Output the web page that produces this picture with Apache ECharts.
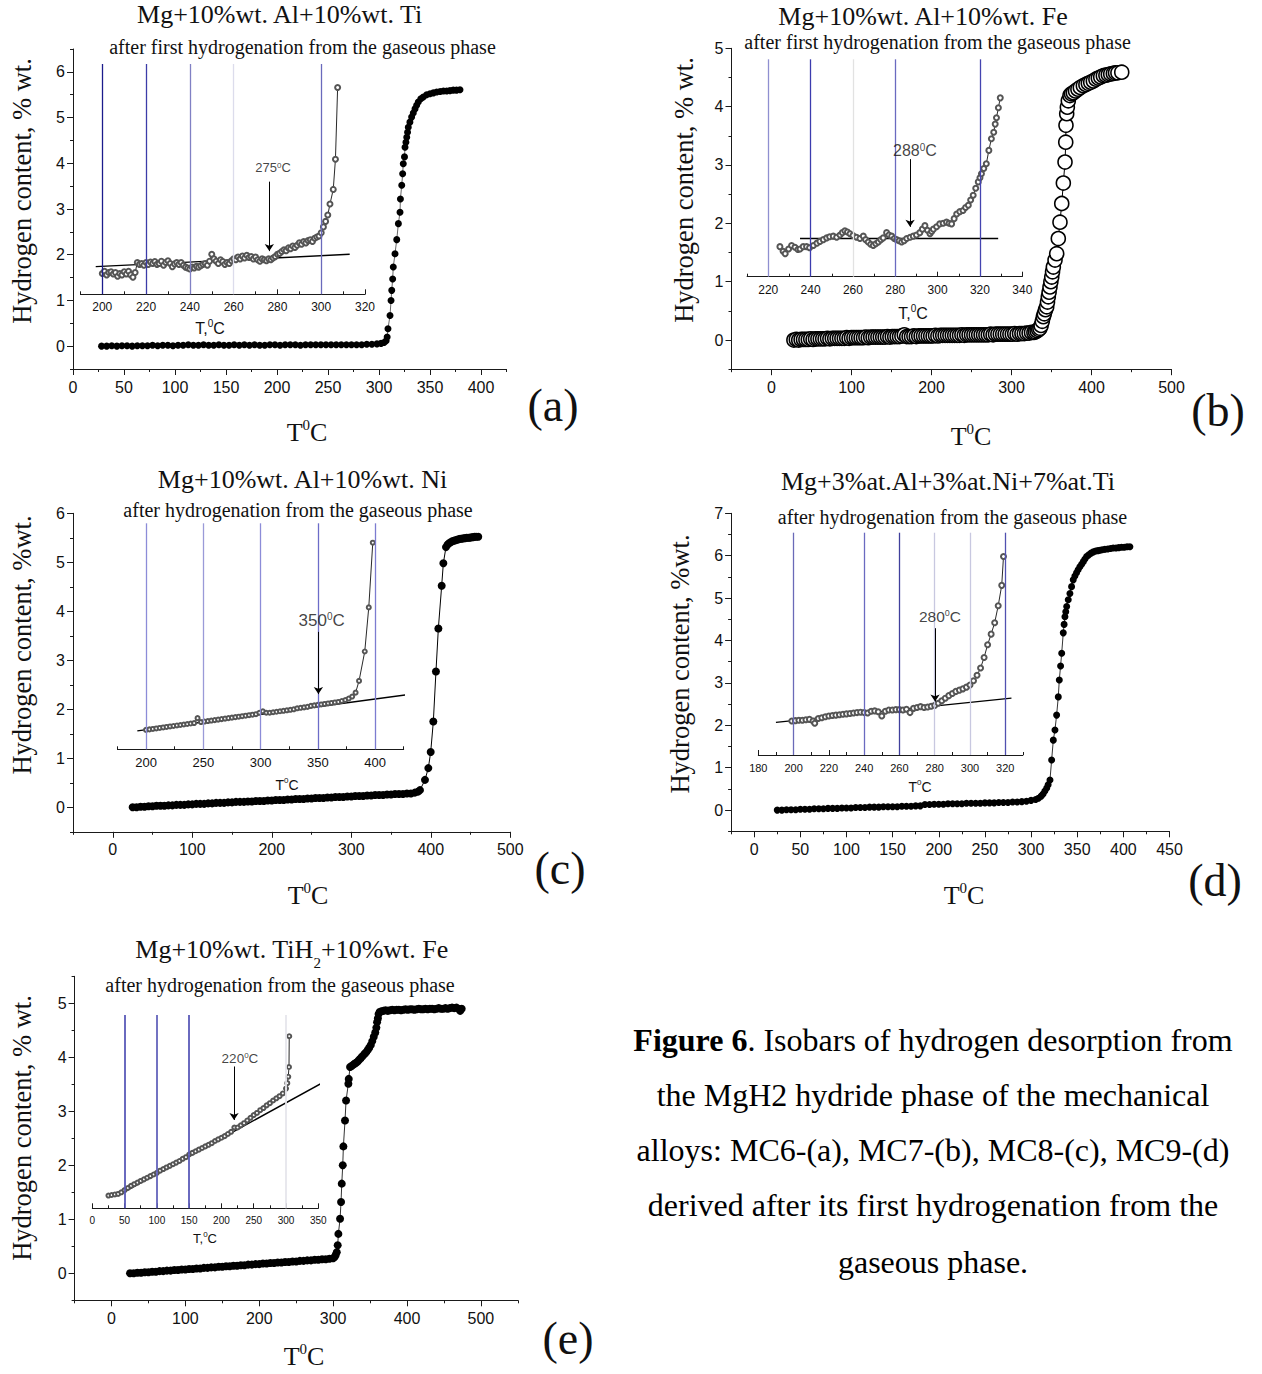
<!DOCTYPE html>
<html><head><meta charset="utf-8">
<script src="https://cdn.jsdelivr.net/npm/echarts@6/dist/echarts.min.js"></script>
<style>html,body{margin:0;padding:0;background:#fff}#c{width:1262px;height:1374px}</style>
</head><body><div id="c"></div>
<script>
// ================= DATA =================
// (a) Mg+10%wt. Al+10%wt. Ti
const aMain=[[28,0],[33,0],[38,0.01],[43,0],[48,0.01],[53,0.01],[58,0],[63,0.01],[68,0.01],[73,0.01],[78,0.02],[83,0.01],[88,0.02],[93,0.02],[98,0.01],[103,0.02],[108,0.02],[113,0.03],[118,0.02],[123,0.02],[128,0.03],[133,0.02],[138,0.02],[143,0.03],[148,0.02],[153,0.02],[158,0.03],[163,0.02],[168,0.03],[173,0.02],[178,0.03],[183,0.02],[188,0.02],[193,0.03],[198,0.03],[203,0.02],[208,0.03],[213,0.03],[218,0.03],[223,0.02],[228,0.03],[233,0.03],[238,0.03],[243,0.03],[248,0.03],[253,0.03],[258,0.03],[263,0.03],[268,0.03],[273,0.03],[278,0.03],[283,0.03],[288,0.04],[293,0.04],[298,0.05],[302,0.06],[305,0.08],[307,0.12],[308,0.2],[308.8,0.38],[310.8,0.67],[311.8,1.0],[312.5,1.22],[313.4,1.47],[314,1.73],[315.7,2.02],[317.4,2.33],[319,2.68],[320.6,2.93],[321,3.22],[322.3,3.52],[323.2,3.77],[323.8,3.99],[325,4.14],[325.5,4.35],[326.4,4.46],[327.2,4.57],[328,4.68],[328.7,4.79],[330.3,4.9],[332,5.01],[333.6,5.1],[335.3,5.19],[336.9,5.27],[338.5,5.34],[341,5.41],[343.4,5.45],[346.7,5.5],[350,5.52],[353.3,5.54],[356.6,5.56],[360,5.57],[363.2,5.58],[366.4,5.58],[369.6,5.59],[372.8,5.6],[376,5.6],[379.4,5.61]];
const aInset=[[200,1.58],[201,1.63],[202,1.55],[203,1.6],[204,1.62],[205,1.57],[206,1.6],[207,1.52],[208,1.58],[209,1.55],[210,1.62],[211,1.57],[212,1.63],[213,1.55],[214,1.5],[215,1.6],[216,1.82],[217,1.78],[218,1.8],[219,1.76],[220,1.82],[221,1.78],[222,1.83],[223,1.8],[224,1.84],[225,1.78],[226,1.8],[227,1.85],[228,1.76],[229,1.82],[230,1.86],[231,1.8],[232,1.73],[233,1.79],[234,1.82],[235,1.78],[236,1.82],[237,1.76],[238,1.72],[239,1.7],[240,1.68],[241,1.72],[242,1.7],[243,1.74],[244,1.72],[245,1.75],[246,1.78],[247,1.8],[248,1.76],[249,1.85],[250,2.0],[251,1.9],[252,1.85],[253,1.8],[254,1.88],[255,1.84],[256,1.78],[257,1.82],[258,1.8],[259,1.86],[260,1.9],[261,1.88],[262,1.94],[263,1.9],[264,1.96],[265,1.92],[266,1.98],[267,1.93],[268,1.95],[269,1.9],[270,1.94],[271,1.88],[272,1.85],[273,1.9],[274,1.88],[275,1.86],[276,1.9],[277,1.88],[278,1.92],[279,1.95],[280,2.0],[281,2.02],[282,2.06],[283,2.1],[284,2.08],[285,2.14],[286,2.12],[287,2.18],[288,2.15],[289,2.2],[290,2.25],[291,2.22],[292,2.28],[293,2.25],[294,2.3],[295,2.32],[296,2.28],[297,2.35],[298,2.38],[299,2.4],[300,2.47],[301,2.6],[302,2.72],[303,2.86],[304,3.1],[305.5,3.42],[306.5,4.08],[307.5,5.65]];
const aFit=[[197,1.73],[313,2.0]];
const aGuideT=[200,220,240,260,300];
const aArrow=[276.3,3.59,2.07];
const aNote=[278,3.89];
const aNoteText='275';
const aXTicks=[0,50,100,150,200,250,300,350,400];
const aXMinor=[25,75,125,175,225,275,325,375,425];
const aYTicks=[0,1,2,3,4,5,6];
const aYMinor=[-0.5,0.5,1.5,2.5,3.5,4.5,5.5,6.5];
const aInTicks=[200,220,240,260,280,300,320];
const aInMinor=[190,210,230,250,270,290,310];

// (b) Mg+10%wt. Al+10%wt. Fe
const bMain=[[28,0],[31,0.01],[34,0],[37,0.01],[40,0.01],[43,0.01],[46,0.01],[49,0.02],[52,0.01],[55,0.02],[58,0.02],[61,0.02],[64,0.02],[67,0.02],[70,0.03],[73,0.02],[76,0.03],[79,0.03],[82,0.03],[85,0.03],[88,0.03],[91,0.03],[94,0.04],[97,0.03],[100,0.04],[103,0.04],[106,0.04],[109,0.04],[112,0.04],[115,0.04],[118,0.05],[121,0.04],[124,0.05],[127,0.05],[130,0.05],[133,0.05],[136,0.05],[139,0.05],[142,0.05],[145,0.06],[148,0.05],[151,0.06],[154,0.06],[157,0.06],[160,0.06],[163,0.07],[166,0.09],[169,0.06],[172,0.06],[175,0.06],[178,0.07],[181,0.06],[184,0.07],[187,0.07],[190,0.07],[193,0.07],[196,0.07],[199,0.07],[202,0.07],[205,0.08],[208,0.07],[211,0.08],[214,0.08],[217,0.08],[220,0.08],[223,0.08],[226,0.08],[229,0.08],[232,0.08],[235,0.08],[238,0.09],[241,0.08],[244,0.09],[247,0.09],[250,0.09],[253,0.09],[256,0.09],[259,0.09],[262,0.09],[265,0.09],[268,0.09],[271,0.09],[274,0.1],[277,0.09],[280,0.1],[283,0.1],[286,0.1],[289,0.1],[292,0.1],[295,0.1],[298,0.1],[301,0.1],[304,0.11],[307,0.1],[310,0.11],[313,0.11],[316,0.11],[319,0.12],[322,0.12],[325,0.13],[328,0.13],[330,0.14],[332,0.16],[334,0.18],[335.6,0.2],[337,0.25],[338.5,0.32],[339.8,0.4],[341,0.45],[342.5,0.52],[344,0.57],[345,0.65],[346,0.74],[347,0.82],[348.1,0.91],[349.2,1.0],[350.3,1.08],[351.3,1.17],[352.3,1.25],[354.4,1.37],[356.5,1.48],[358.5,1.74],[360.6,2.02],[362.8,2.34],[364.8,2.69],[366.9,3.05],[367.8,3.39],[368.1,3.68],[369,3.88],[369.8,3.99],[371,4.1],[373.1,4.19],[375,4.22],[377.3,4.24],[380,4.27],[383,4.3],[386,4.33],[389.8,4.36],[393,4.38],[396,4.4],[399,4.42],[402.3,4.44],[405.5,4.47],[408.5,4.49],[411.5,4.51],[414.8,4.53],[418,4.54],[421,4.55],[424,4.56],[427.3,4.57],[430,4.58],[433,4.58],[437.8,4.59]];
const bInset=[[225.5,1.6],[227,1.52],[228,1.48],[229.6,1.56],[231,1.62],[232.6,1.59],[234,1.55],[235,1.56],[236.5,1.6],[238.1,1.6],[239.5,1.58],[241.3,1.62],[243,1.66],[244.4,1.69],[246,1.72],[247.6,1.75],[249,1.77],[250.7,1.78],[252.3,1.76],[253.9,1.8],[255,1.84],[256.2,1.87],[257.4,1.85],[258.6,1.82],[260,1.79],[261.7,1.76],[263.3,1.74],[264.9,1.78],[266,1.72],[267.2,1.68],[268.4,1.64],[269.6,1.62],[270.8,1.65],[272,1.68],[273.2,1.72],[274.3,1.75],[275.9,1.84],[277,1.8],[278.3,1.78],[279.5,1.74],[280.6,1.72],[281.8,1.7],[283,1.68],[284.2,1.7],[285.4,1.74],[287,1.76],[288.5,1.78],[290,1.8],[291.6,1.84],[292.8,1.9],[294,1.96],[295.2,1.88],[296.4,1.82],[297.2,1.86],[298,1.9],[299.5,1.94],[301,1.99],[302.6,2.0],[304.2,2.02],[305.4,2.0],[306.6,1.99],[307.8,2.08],[309,2.16],[310.5,2.2],[312,2.22],[313.2,2.27],[314.5,2.31],[315.6,2.4],[316.8,2.48],[318,2.6],[319.2,2.71],[320,2.78],[320.7,2.85],[321.8,2.94],[323,3.02],[324.2,3.25],[325.4,3.45],[326.5,3.56],[327.2,3.7],[327.8,3.81],[328.7,3.98],[329.6,4.15]];
const bFit=[[235,1.74],[328.6,1.74]];
const bGuideT=[220,240,260,280,320];
const bArrow=[287,3.1,1.94];
const bNote=[289.3,3.25];
const bNoteText='288';
const bXTicks=[0,100,200,300,400,500];
const bXMinor=[-50,50,150,250,350,450];
const bYTicks=[0,1,2,3,4,5];
const bYMinor=[-0.5,0.5,1.5,2.5,3.5,4.5];
const bInTicks=[220,240,260,280,300,320,340];
const bInMinor=[210,230,250,270,290,310,330];

// (c) Mg+10%wt. Al+10%wt. Ni
const cMain=[[25,0],[30,0],[35,0.01],[40,0.01],[45,0.02],[50,0.02],[55,0.03],[60,0.03],[65,0.03],[70,0.04],[75,0.04],[80,0.05],[85,0.05],[90,0.05],[95,0.06],[100,0.06],[105,0.07],[110,0.07],[115,0.07],[120,0.08],[125,0.08],[130,0.09],[135,0.09],[140,0.09],[145,0.1],[150,0.1],[155,0.11],[160,0.11],[165,0.11],[170,0.12],[175,0.12],[180,0.13],[185,0.13],[190,0.13],[195,0.14],[200,0.14],[205,0.15],[210,0.15],[215,0.15],[220,0.16],[225,0.16],[230,0.17],[235,0.17],[240,0.17],[245,0.18],[250,0.18],[255,0.19],[260,0.19],[265,0.19],[270,0.2],[275,0.2],[280,0.21],[285,0.21],[290,0.21],[295,0.22],[300,0.22],[305,0.23],[310,0.23],[315,0.23],[320,0.24],[325,0.24],[330,0.25],[335,0.25],[340,0.25],[345,0.26],[350,0.26],[355,0.27],[360,0.27],[365,0.27],[370,0.28],[375,0.28],[380,0.3],[384,0.32],[386.4,0.35],[392.7,0.56],[396.9,0.8],[399.9,1.13],[403.2,1.75],[406.5,2.77],[409.5,3.65],[413.7,4.52],[415.8,4.98],[419.1,5.31],[421,5.36],[423,5.39],[425,5.41],[427,5.43],[429,5.44],[431,5.45],[433,5.46],[435,5.47],[437,5.48],[439,5.48],[441,5.49],[443,5.49],[445,5.5],[447,5.5],[449,5.5],[451,5.51],[453,5.51],[455,5.52],[457,5.52],[459.7,5.52]];
const cInset=[[200,1.58],[203,1.59],[206,1.6],[209,1.61],[212,1.62],[215,1.63],[218,1.64],[221,1.65],[224,1.66],[227,1.67],[230,1.68],[233,1.69],[236,1.7],[239,1.71],[242,1.72],[245,1.82],[248,1.74],[251,1.75],[254,1.76],[257,1.77],[260,1.78],[263,1.79],[266,1.8],[269,1.81],[272,1.82],[275,1.83],[278,1.84],[281,1.85],[284,1.86],[287,1.87],[290,1.88],[293,1.89],[296,1.9],[299,1.93],[302,1.96],[305,1.93],[308,1.93],[311,1.94],[314,1.95],[317,1.96],[320,1.97],[323,1.98],[326,1.99],[329,2.0],[332,2.02],[335,2.03],[338,2.04],[341,2.05],[344,2.07],[347,2.08],[350,2.09],[353,2.1],[356,2.11],[359,2.12],[362,2.13],[365,2.14],[368,2.15],[371,2.17],[374,2.19],[377,2.22],[380,2.26],[383,2.34],[386,2.58],[391,3.18],[394.5,4.08],[398,5.4]];
const cFit=[[192.4,1.56],[438.7,2.33]];
const cGuideT=[200,250,300,350,400];
const cArrow=[350.5,3.58,2.31];
const cNote=[353.4,3.82];
const cNoteText='350';
const cXTicks=[0,100,200,300,400,500];
const cXMinor=[-50,50,150,250,350,450];
const cYTicks=[0,1,2,3,4,5,6];
const cYMinor=[-0.5,0.5,1.5,2.5,3.5,4.5,5.5];
const cInTicks=[200,250,300,350,400];
const cInMinor=[175,225,275,325,375,425];

// (d) Mg+3%at.Al+3%at.Ni+7%at.Ti
const dMain=[[25,0],[30,0],[35,0.01],[40,0.01],[45,0.01],[50,0.02],[55,0.02],[60,0.02],[65,0.03],[70,0.03],[75,0.03],[80,0.04],[85,0.04],[90,0.04],[95,0.05],[100,0.05],[105,0.05],[110,0.06],[115,0.06],[120,0.06],[125,0.07],[130,0.07],[135,0.07],[140,0.08],[145,0.08],[150,0.08],[155,0.08],[160,0.09],[165,0.09],[170,0.09],[175,0.1],[180,0.1],[185,0.13],[190,0.13],[195,0.14],[200,0.14],[205,0.14],[210,0.15],[215,0.15],[220,0.15],[225,0.15],[230,0.16],[235,0.16],[240,0.16],[245,0.16],[250,0.17],[255,0.17],[260,0.17],[265,0.18],[270,0.18],[275,0.18],[280,0.19],[285,0.19],[290,0.2],[295,0.21],[300,0.23],[305,0.25],[308,0.28],[311,0.33],[313,0.38],[315,0.45],[317,0.52],[318.5,0.6],[320.5,0.71],[322.3,1.18],[324.1,1.65],[325.9,1.89],[327.7,2.24],[329.5,2.67],[330.6,3.07],[332,3.4],[333.2,3.7],[334.9,4.18],[335.8,4.38],[336.7,4.56],[337.6,4.68],[338.6,4.8],[340.3,4.96],[342.1,5.11],[343.9,5.27],[345.7,5.43],[347.5,5.52],[349.3,5.6],[351,5.67],[352.9,5.74],[354.8,5.8],[356.6,5.86],[358.4,5.92],[360.2,5.98],[362.5,6.02],[365,6.06],[367.5,6.09],[370,6.11],[372.5,6.12],[374.6,6.13],[377,6.14],[380,6.15],[383,6.16],[386,6.17],[389,6.18],[392,6.18],[395,6.19],[398,6.2],[401,6.2],[404,6.21],[407.1,6.21]];
const dInset=[[199,2.1],[201,2.11],[203,2.12],[205,2.12],[207,2.13],[209,2.14],[211,2.1],[212,2.05],[214,2.16],[216,2.18],[218,2.2],[220,2.22],[222,2.23],[224,2.24],[226,2.25],[228,2.26],[230,2.27],[232,2.28],[234,2.29],[236,2.3],[238,2.31],[240,2.3],[242,2.29],[244,2.33],[246,2.34],[248,2.32],[250,2.22],[252,2.33],[254,2.36],[256,2.36],[258,2.37],[260,2.37],[262,2.36],[264,2.38],[266,2.3],[268,2.4],[270,2.42],[272,2.44],[274,2.42],[276,2.43],[278,2.45],[280,2.47],[282,2.52],[284,2.58],[286,2.64],[288,2.7],[290,2.75],[292,2.8],[294,2.83],[296,2.86],[298,2.9],[300,2.95],[302,3.05],[304,3.18],[306,3.35],[308,3.6],[310,3.9],[312,4.15],[314,4.42],[316,4.82],[318,5.3],[319,5.98]];
const dFit=[[190,2.07],[323.5,2.64]];
const dGuideT=[200,240,260,280,300,320];
const dArrow=[280.2,4.29,2.56];
const dNote=[283,4.56];
const dNoteText='280';
const dXTicks=[0,50,100,150,200,250,300,350,400,450];
const dXMinor=[-25,25,75,125,175,225,275,325,375,425];
const dYTicks=[0,1,2,3,4,5,6,7];
const dYMinor=[-0.5,0.5,1.5,2.5,3.5,4.5,5.5,6.5];
const dInTicks=[180,200,220,240,260,280,300,320];
const dInMinor=[190,210,230,250,270,290,310,330];

// (e) Mg+10%wt. TiH2+10%wt. Fe
const eMain=[[25,0],[30,0],[35,0.01],[40,0.01],[45,0.02],[50,0.02],[55,0.03],[60,0.03],[65,0.04],[70,0.04],[75,0.05],[80,0.05],[85,0.06],[90,0.06],[95,0.07],[100,0.07],[105,0.08],[110,0.08],[115,0.09],[120,0.09],[125,0.1],[130,0.1],[135,0.11],[140,0.11],[145,0.12],[150,0.12],[155,0.13],[160,0.13],[165,0.14],[170,0.14],[175,0.15],[180,0.15],[185,0.16],[190,0.16],[195,0.17],[200,0.17],[205,0.18],[210,0.18],[215,0.19],[220,0.19],[225,0.2],[230,0.2],[235,0.21],[240,0.21],[245,0.22],[250,0.22],[255,0.23],[260,0.23],[265,0.24],[270,0.24],[275,0.25],[280,0.25],[285,0.26],[290,0.26],[295,0.27],[300,0.28],[302,0.3],[303.5,0.34],[304.9,0.39],[306.2,0.52],[307.1,0.73],[309.4,1.01],[310.7,1.32],[311.7,1.66],[313,2.0],[313.9,2.35],[316.1,2.83],[317.5,3.2],[320.6,3.51],[321.1,3.6],[322.9,3.82],[325,3.84],[327,3.86],[329,3.88],[331,3.9],[333,3.92],[335,3.95],[337,3.98],[339,4.01],[341,4.04],[343,4.07],[345,4.1],[347,4.14],[349,4.18],[351,4.23],[353,4.3],[355,4.38],[357,4.46],[358.5,4.55],[359.5,4.65],[360.6,4.72],[361.5,4.8],[362.9,4.84],[365,4.85],[368,4.86],[371,4.87],[374,4.86],[377,4.87],[380,4.88],[383,4.87],[386,4.88],[389,4.88],[392,4.87],[395,4.88],[398,4.89],[401,4.88],[404,4.89],[407,4.89],[410,4.88],[413,4.89],[416,4.9],[419,4.89],[422,4.89],[425,4.9],[428,4.89],[431,4.9],[434,4.9],[437,4.89],[440,4.9],[443,4.91],[446,4.9],[449,4.9],[452,4.91],[455,4.9],[458,4.91],[461,4.92],[464,4.91],[467,4.92],[470,4.9],[472,4.86],[474,4.9]];
const eInset=[[25,1.44],[30,1.45],[35,1.46],[40,1.47],[45,1.5],[50,1.54],[55,1.58],[60,1.62],[65,1.65],[70,1.68],[75,1.71],[80,1.74],[85,1.77],[90,1.8],[95,1.83],[100,1.86],[105,1.9],[110,1.93],[115,1.96],[120,1.99],[125,2.02],[130,2.05],[135,2.08],[140,2.12],[145,2.15],[150,2.2],[155,2.23],[160,2.26],[165,2.29],[170,2.32],[175,2.35],[180,2.38],[185,2.41],[190,2.45],[195,2.48],[200,2.51],[205,2.54],[210,2.58],[215,2.62],[220,2.7],[225,2.7],[230,2.74],[235,2.78],[240,2.83],[245,2.88],[250,2.93],[255,2.97],[260,3.02],[265,3.06],[270,3.11],[275,3.15],[280,3.2],[285,3.24],[290,3.28],[295,3.33],[300,3.42],[302,3.52],[303.5,3.64],[304.6,3.82],[305,4.39]];
const eFit=[[49.6,1.51],[373.3,3.64]];
const eGuideT=[50,100,150,300];
const eArrow=[219.5,3.83,2.84];
const eNote=[228.7,3.98];
const eNoteText='220';
const eXTicks=[0,100,200,300,400,500];
const eXMinor=[-50,50,150,250,350,450,550];
const eYTicks=[0,1,2,3,4,5];
const eYMinor=[-0.5,0.5,1.5,2.5,3.5,4.5,5.5];
const eInTicks=[0,50,100,150,200,250,300,350];
const eInMinor=[25,75,125,175,225,275,325];

// ================= LAYOUT / STYLE =================
const SERIF='"Liberation Serif","Times New Roman",serif';
const SANS='"Liberation Sans",Arial,Helvetica,sans-serif';

const panels=[
 {main:aMain,inset:aInset,fit:aFit,guides:aGuideT,arrow:aArrow,note:aNote,noteText:aNoteText,
  xT:aXTicks,xM:aXMinor,yT:aYTicks,yM:aYMinor,ixT:aInTicks,ixM:aInMinor,
  g:{left:73,top:49,width:433.5,height:320},x:[0,425],y:[-0.5,6.5],
  ig:{left:80.4,top:64,width:284.6,height:230.3},ix:[190,320],iy:[1.125,6.164],
  gc:['#1c1c8c','#3c3ca8','#8080c4','#dcdcec','#6a6abc'],gw:1.3,
  sym:{size:7,item:{color:'#000'},lw:0.6},isym:5,inFont:12,noteFont:13},
 {main:bMain,inset:bInset,fit:bFit,guides:bGuideT,arrow:bArrow,note:bNote,noteText:bNoteText,
  xT:bXTicks,xM:bXMinor,yT:bYTicks,yM:bYMinor,ixT:bInTicks,ixM:bInMinor,
  g:{left:731.5,top:48.3,width:440,height:320.9},x:[-50,500],y:[-0.5,5],
  ig:{left:747.1,top:59.3,width:275.2,height:217.4},ix:[210,340],iy:[1.085,4.811],
  gc:['#8f8fd0','#3c3cae','#e2e2e2','#6a6ac0','#4444b0'],gw:1.3,
  sym:{size:14,item:{color:'#fff',borderColor:'#000',borderWidth:1.6},lw:1},isym:5,inFont:12,noteFont:16},
 {main:cMain,inset:cInset,fit:cFit,guides:cGuideT,arrow:cArrow,note:cNote,noteText:cNoteText,
  xT:cXTicks,xM:cXMinor,yT:cYTicks,yM:cYMinor,ixT:cInTicks,ixM:cInMinor,
  g:{left:73,top:513.3,width:437.3,height:318.5},x:[-50,500],y:[-0.5,6],
  ig:{left:117.4,top:523.3,width:286.3,height:226},ix:[175,425],iy:[1.184,5.796],
  gc:['#8c8cd8','#9a9ad8','#8c8cd8','#6c6cc8','#7c7cd0'],gw:1.3,
  sym:{size:8,item:{color:'#000'},lw:1},isym:4,inFont:13,noteFont:17},
 {main:dMain,inset:dInset,fit:dFit,guides:dGuideT,arrow:dArrow,note:dNote,noteText:dNoteText,
  xT:dXTicks,xM:dXMinor,yT:dYTicks,yM:dYMinor,ixT:dInTicks,ixM:dInMinor,
  g:{left:731.1,top:513.3,width:438.4,height:318},x:[-25,450],y:[-0.5,7],
  ig:{left:758.3,top:532.7,width:264.6,height:222.3},ix:[180,330],iy:[1.3,6.542],
  gc:['#6a6ab8','#6a6ac0','#40409c','#c8c8e0','#c8c8e0','#5050b0'],gw:1.3,
  sym:{size:7,item:{color:'#000'},lw:0.8},isym:5,inFont:11,noteFont:15.5},
 {main:eMain,inset:eInset,fit:eFit,guides:eGuideT,arrow:eArrow,note:eNote,noteText:eNoteText,
  xT:eXTicks,xM:eXMinor,yT:eYTicks,yM:eYMinor,ixT:eInTicks,ixM:eInMinor,
  g:{left:74.6,top:976.3,width:443.2,height:324},x:[-50,550],y:[-0.5,5.5],
  ig:{left:92.3,top:1015,width:226,height:193.3},ix:[0,350],iy:[1.204,4.783],
  gc:['#5a5ab8','#6464bc','#5a5ab8','#e6e6ec'],gw:1.8,
  sym:{size:8,item:{color:'#000'},lw:0.8},isym:4,inFont:10,noteFont:13.5}
];

const texts=[
 {title:'{t|Mg+10%wt. Al+10%wt. Ti}',tp:[279.6,18.3],sub:'after first hydrogenation from the gaseous phase',sp:[302.5,46.7],
  yname:'Hydrogen content, % wt.',yp:[22,191],xp:[307,432],letter:'(a)',lp:[553,405],iname:'{n|T,}{s|0}{n|C}',ip:[210,328],iF:16},
 {title:'{t|Mg+10%wt. Al+10%wt. Fe}',tp:[923,20],sub:'after first hydrogenation from the gaseous phase',sp:[937.6,41.7],
  yname:'Hydrogen content, % wt.',yp:[684,190],xp:[971,436],letter:'(b)',lp:[1218,410],iname:'{n|T,}{s|0}{n|C}',ip:[913,313],iF:16},
 {title:'{t|Mg+10%wt. Al+10%wt. Ni}',tp:[302.5,483.3],sub:'after hydrogenation from the gaseous phase',sp:[298,510],
  yname:'Hydrogen content, %wt.',yp:[22,645],xp:[308,895],letter:'(c)',lp:[560,868],iname:'{n|T}{s|0}{n|C}',ip:[287,785],iF:14},
 {title:'{t|Mg+3%at.Al+3%at.Ni+7%at.Ti}',tp:[948,485],sub:'after hydrogenation from the gaseous phase',sp:[952.5,516.7],
  yname:'Hydrogen content, %wt.',yp:[680,664],xp:[964,895],letter:'(d)',lp:[1215,880],iname:'{n|T}{s|0}{n|C}',ip:[920,787],iF:14},
 {title:'{t|Mg+10%wt. TiH}{u|2}{t|+10%wt. Fe}',tp:[291.7,953.3],sub:'after hydrogenation from the gaseous phase',sp:[280,985],
  yname:'Hydrogen content, % wt.',yp:[22,1128],xp:[304,1356],letter:'(e)',lp:[568,1338],iname:'{n|T,}{s|0}{n|C}',ip:[205,1238],iF:13}
];
const captionLines=['{b|Figure 6}{r|. Isobars of hydrogen desorption from}','{r|the MgH2 hydride phase of the mechanical}','{r|alloys: MC6-(a), MC7-(b), MC8-(c), MC9-(d)}','{r|derived after its first hydrogenation from the}','{r|gaseous phase.}'];
const captionY=[1040,1095,1150,1205,1262];

// ================= BUILD =================
function axisPrimary(dim,gi,range,ticks,lab,len,inside){
  return {type:'value',gridIndex:gi,position:dim==='x'?'bottom':'left',min:range[0],max:range[1],
    axisLine:{show:true,onZero:false,lineStyle:{color:'#1a1a1a',width:1}},
    axisTick:{show:true,customValues:ticks,length:len,inside:inside,lineStyle:{color:'#1a1a1a',width:1}},
    axisLabel:Object.assign({show:true,customValues:ticks,color:'#111'},lab),
    splitLine:{show:false},minorTick:{show:false}};
}
function axisMinor(dim,gi,range,ticks,len,inside){
  return {type:'value',gridIndex:gi,position:dim==='x'?'bottom':'left',min:range[0],max:range[1],
    axisLine:{show:false,onZero:false},
    axisTick:{show:true,customValues:ticks,length:len,inside:inside,lineStyle:{color:'#1a1a1a',width:1}},
    axisLabel:{show:false},splitLine:{show:false}};
}
function gtext(x,y,text,rich,extra){
  return Object.assign({type:'text',x:x,y:y,silent:true,style:{text:text,rich:rich,align:'center',verticalAlign:'middle',textAlign:'center',textVerticalAlign:'middle',fill:'#111'}},extra||{});
}

const grid=[],xAxis=[],yAxis=[],series=[],elements=[];
panels.forEach((p,i)=>{
  const gm=grid.length; grid.push(Object.assign({containLabel:false},p.g));
  const gi=grid.length; grid.push(Object.assign({containLabel:false},p.ig));
  const xm=xAxis.length;
  xAxis.push(axisPrimary('x',gm,p.x,p.xT,{fontSize:16,fontFamily:SANS,margin:10},6,false));
  xAxis.push(axisMinor('x',gm,p.x,p.xM,3,false));
  const xi=xAxis.length;
  xAxis.push(axisPrimary('x',gi,p.ix,p.ixT,{fontSize:p.inFont,fontFamily:SANS,margin:7},5,true));
  xAxis.push(axisMinor('x',gi,p.ix,p.ixM,3,true));
  const ym=yAxis.length;
  yAxis.push(axisPrimary('y',gm,p.y,p.yT,{fontSize:16,fontFamily:SANS,margin:8},6,false));
  yAxis.push(axisMinor('y',gm,p.y,p.yM,3,false));
  const yi=yAxis.length;
  yAxis.push({type:'value',gridIndex:gi,min:p.iy[0],max:p.iy[1],show:false,splitLine:{show:false}});

  series.push({type:'line',xAxisIndex:xi,yAxisIndex:yi,data:p.fit,symbol:'none',showSymbol:false,
    lineStyle:{color:'#000',width:1.4},z:3,silent:true,
    markLine:{silent:true,symbol:['none','none'],label:{show:false},animation:false,
      data:p.guides.map((t,k)=>({xAxis:t,lineStyle:{color:p.gc[k],width:p.gw,type:'solid'}}))}});
  series.push({type:'line',xAxisIndex:xi,yAxisIndex:yi,data:p.inset,symbol:'emptyCircle',symbolSize:p.isym,
    showSymbol:true,showAllSymbol:true,itemStyle:{color:'#555',borderWidth:0.8},lineStyle:{color:'#111',width:0.9},z:4,silent:true});
  series.push({type:'scatter',xAxisIndex:xi,yAxisIndex:yi,data:[p.note],symbolSize:1,itemStyle:{color:'rgba(0,0,0,0)'},z:7,silent:true,
    label:{show:true,position:'inside',formatter:'{n|'+p.noteText+'}{s|0}{n|C}',
      rich:{n:{fontFamily:SANS,fontSize:p.noteFont,color:'#111'},s:{fontFamily:SANS,fontSize:Math.round(p.noteFont*0.6),color:'#111',verticalAlign:'top'}}},
    markLine:{silent:true,symbol:['none','arrow'],symbolSize:7,label:{show:false},animation:false,
      lineStyle:{color:'#000',width:1,type:'solid'},
      data:[[{coord:[p.arrow[0],p.arrow[1]]},{coord:[p.arrow[0],p.arrow[2]]}]]}});
  series.push({type:'line',xAxisIndex:xm,yAxisIndex:ym,data:p.main,symbol:'circle',symbolSize:p.sym.size,
    showSymbol:true,showAllSymbol:true,itemStyle:p.sym.item,lineStyle:{color:'#000',width:p.sym.lw},z:6,silent:true});

  const t=texts[i];
  const tRich={t:{fontFamily:SERIF,fontSize:26,fill:'#111',lineHeight:34,verticalAlign:'top'},u:{fontFamily:SERIF,fontSize:15,fill:'#111',lineHeight:15,verticalAlign:'bottom'}};
  elements.push(gtext(t.tp[0],t.tp[1],t.title,tRich));
  elements.push(gtext(t.sp[0],t.sp[1],'{r|'+t.sub+'}',{r:{fontFamily:SERIF,fontSize:20,fill:'#111'}}));
  elements.push(gtext(t.yp[0],t.yp[1],'{r|'+t.yname+'}',{r:{fontFamily:SERIF,fontSize:26.5,fill:'#111'}},{rotation:Math.PI/2}));
  elements.push(gtext(t.xp[0],t.xp[1],'{n|T}{s|0}{n|C}',{n:{fontFamily:SERIF,fontSize:26,fill:'#111',lineHeight:30},s:{fontFamily:SERIF,fontSize:15,fill:'#111',lineHeight:15,verticalAlign:'top'}}));
  elements.push(gtext(t.lp[0],t.lp[1],'{r|'+t.letter+'}',{r:{fontFamily:SERIF,fontSize:46,fill:'#111'}}));
  elements.push(gtext(t.ip[0],t.ip[1],t.iname,{n:{fontFamily:SANS,fontSize:t.iF,fill:'#111',lineHeight:t.iF+3},s:{fontFamily:SANS,fontSize:Math.round(t.iF*0.6),fill:'#111',verticalAlign:'top'}}));
});
captionLines.forEach((ln,k)=>{
  elements.push(gtext(933,captionY[k],ln,{b:{fontFamily:SERIF,fontSize:32,fontWeight:'bold',fill:'#000'},r:{fontFamily:SERIF,fontSize:32,fill:'#000'}}));
});

const chart=echarts.init(document.getElementById('c'),null,{renderer:'svg',width:1262,height:1374});
chart.setOption({animation:false,backgroundColor:'#fff',grid:grid,xAxis:xAxis,yAxis:yAxis,series:series,graphic:{elements:elements}});
</script></body></html>
